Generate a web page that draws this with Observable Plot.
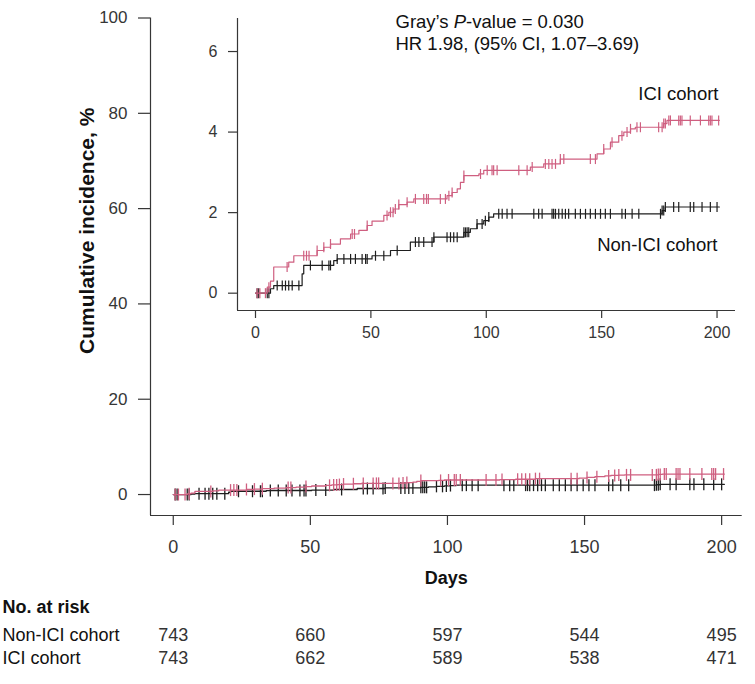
<!DOCTYPE html>
<html><head><meta charset="utf-8">
<script src="https://cdn.jsdelivr.net/npm/d3@7"></script>
<script src="https://cdn.jsdelivr.net/npm/@observablehq/plot@0.6"></script>
<style>
body{margin:0;background:#fff;font-family:"Liberation Sans",Arial,Helvetica,sans-serif;}
#wrap{position:relative;width:755px;height:684px;overflow:hidden;background:#fff;}
#wrap > svg{position:absolute;left:0;}
</style></head><body><div id="wrap"></div>
<script>
// ---- data ----
const cohorts = ["Non-ICI cohort", "ICI cohort"];
// step curves: event day and cumulative incidence (%)
const iciDays = [0, 5.1, 6.5, 7.9, 14.4, 16.6, 26.7, 29.6, 32.5, 36.8, 41.2, 44.8, 48.4, 50.5, 55.6, 57.8, 59.9, 62.1, 65.7, 68.6, 83.0, 85.2, 87.4, 88.8, 90.3, 96.8, 98.9, 119.1, 124.9, 132.1, 148.0, 150.9, 153.8, 157.4, 159.6, 162.5, 164.6, 176.9, 178.3, 201];
const iciInc = [0, 0.15, 0.3, 0.65, 0.77, 0.93, 1.06, 1.14, 1.22, 1.35, 1.47, 1.56, 1.68, 1.79, 1.93, 2.01, 2.09, 2.2, 2.26, 2.34, 2.42, 2.5, 2.59, 2.75, 2.92, 2.96, 3.05, 3.13, 3.21, 3.33, 3.46, 3.58, 3.75, 3.91, 4.0, 4.08, 4.12, 4.21, 4.29, 4.29];
const nonDays = [0, 6.5, 7.9, 20.2, 20.9, 33.9, 35.4, 50.5, 58.5, 67.1, 77.3, 90.3, 93.1, 96.0, 98.9, 101.1, 103.2, 176.2, 177.6, 201];
const nonInc = [0, 0.11, 0.19, 0.48, 0.69, 0.81, 0.85, 0.93, 1.06, 1.27, 1.39, 1.51, 1.60, 1.72, 1.80, 1.89, 1.97, 2.05, 2.14, 2.14];
// censoring times (days)
const iciCensor = [0.7, 1.9, 4.3, 5.8, 13.7, 20.9, 22.1, 23.2, 26.7, 29.6, 32.5, 41.9, 42.9, 48.4, 57.0, 58.5, 59.6, 60.6, 62.1, 65.7, 69.3, 72.9, 74.1, 74.9, 80.1, 82.3, 83.8, 85.2, 90.3, 97.5, 100.4, 102.5, 103.2, 104.7, 114.1, 117.7, 119.9, 125.6, 127.1, 128.5, 130.0, 132.1, 133.6, 145.1, 147.3, 150.9, 154.5, 158.8, 161.0, 162.5, 165.3, 166.8, 174.7, 176.2, 176.9, 177.6, 179.1, 179.8, 183.4, 184.1, 184.8, 188.4, 192.8, 196.4, 197.1, 197.8, 200.7];
const nonCensor = [0.7, 1.4, 5.1, 5.8, 9.4, 11.6, 13.0, 14.4, 15.9, 18.8, 23.8, 28.9, 31.8, 32.5, 35.4, 38.3, 41.2, 43.3, 46.2, 47.7, 48.4, 52.0, 55.6, 61.4, 69.3, 70.8, 72.9, 76.5, 77.3, 83.0, 84.5, 85.9, 87.4, 90.3, 91.0, 91.7, 92.4, 96.0, 98.2, 99.6, 101.1, 105.4, 106.9, 109.0, 111.2, 120.6, 122.7, 124.2, 128.5, 129.2, 130.0, 131.4, 132.9, 134.3, 135.7, 138.6, 140.8, 143.0, 145.1, 147.3, 149.5, 151.6, 153.8, 158.8, 160.3, 163.2, 166.1, 175.5, 176.2, 176.9, 177.6, 181.2, 183.4, 188.4, 189.9, 193.5, 197.1, 200.0];
// axes
const xTicks = [0, 50, 100, 150, 200];
const mainYTicks = [0, 20, 40, 60, 80, 100];
const insetYTicks = [0, 2, 4, 6];
// number at risk
const riskDays = [0, 50, 100, 150, 200];
const riskNonICI = [743, 660, 597, 544, 495];
const riskICI = [743, 662, 589, 538, 471];
// annotation texts
const statLine1 = "Gray\u2019s P-value = 0.030";
const statLine2 = "HR 1.98, (95% CI, 1.07\u20133.69)";

// ---- derived tables ----
const FONT = '"Liberation Sans", Arial, Helvetica, sans-serif';
const PINK = "#cf5f80", BLACK = "#1e1e1e", AXIS = "#363636";
function stepAt(days, inc, t) { let v = inc[0]; for (let i = 0; i < days.length; i++) if (days[i] <= t) v = inc[i]; return v; }
const iciCurve = iciDays.map((d, i) => ({day: d, inc: iciInc[i]}));
const nonCurve = nonDays.map((d, i) => ({day: d, inc: nonInc[i]}));
const iciMarks = iciCensor.map(d => ({day: d, inc: stepAt(iciDays, iciInc, d)}));
const nonMarks = nonCensor.map(d => ({day: d, inc: stepAt(nonDays, nonInc, d)}));
const riskRows = riskDays.flatMap((d, i) => [
  {day: d, cohort: cohorts[0], n: riskNonICI[i]},
  {day: d, cohort: cohorts[1], n: riskICI[i]}
]);
const vtick = h => ({draw(ctx) { ctx.moveTo(0, -h / 2); ctx.lineTo(0, h / 2); }});

function curveMarks(sw, h) {
  return [
    Plot.line(nonCurve, {x: "day", y: "inc", curve: "step-after", stroke: BLACK, strokeWidth: sw}),
    Plot.dot(nonMarks, {x: "day", y: "inc", symbol: vtick(h), r: 4, fill: "none", stroke: BLACK, strokeWidth: sw}),
    Plot.line(iciCurve, {x: "day", y: "inc", curve: "step-after", stroke: PINK, strokeWidth: sw}),
    Plot.dot(iciMarks, {x: "day", y: "inc", symbol: vtick(h), r: 4, fill: "none", stroke: PINK, strokeWidth: sw})
  ];
}

const wrap = document.getElementById("wrap");

// ---- main plot ----
const xMain = [-8.3, 207.5], yMain = [-4.4, 100];
const main = Plot.plot({
  width: 755, height: 600,
  marginTop: 17.5, marginBottom: 85, marginLeft: 150, marginRight: 13.3,
  style: {fontFamily: FONT, fontSize: "17px", color: AXIS, background: "transparent", overflow: "visible"},
  x: {domain: xMain},
  y: {domain: yMain},
  marks: [
    Plot.ruleX([xMain[0]], {stroke: AXIS, strokeWidth: 1.2}),
    Plot.ruleY([yMain[0]], {stroke: AXIS, strokeWidth: 1.2}),
    Plot.axisX({ticks: xTicks, tickSize: 10, tickPadding: 15, fontSize: 18, label: null, strokeWidth: 1.2}),
    Plot.axisY({ticks: mainYTicks, tickSize: 12, tickPadding: 11, fontSize: 17, label: null, strokeWidth: 1.2}),
    ...curveMarks(1.3, 12),
    Plot.text(["Days"], {frameAnchor: "bottom", lineAnchor: "middle", dy: 63, fontWeight: "bold", fontSize: 18, fill: "#111"}),
    Plot.text(["Cumulative incidence, %"], {frameAnchor: "left", textAnchor: "middle", lineAnchor: "middle", rotate: -90, dx: -63, dy: -36, fontWeight: "bold", fontSize: 21, fill: "#111"})
  ]
});
main.style.top = "0px";
wrap.appendChild(main);

// ---- inset ----
const xIn = [-7.8, 208], yIn = [-0.43, 6.82];
const inset = Plot.plot({
  width: 755, height: 345,
  marginTop: 18, marginBottom: 35, marginLeft: 237, marginRight: 20,
  style: {fontFamily: FONT, fontSize: "16px", color: AXIS, background: "transparent", overflow: "visible"},
  x: {domain: xIn},
  y: {domain: yIn},
  marks: [
    Plot.ruleX([xIn[0]], {stroke: AXIS, strokeWidth: 1.2}),
    Plot.ruleY([yIn[0]], {stroke: AXIS, strokeWidth: 1.2}),
    Plot.axisX({ticks: xTicks, tickSize: 8, tickPadding: 8, fontSize: 16, label: null, strokeWidth: 1.2}),
    Plot.axisY({ticks: insetYTicks, tickSize: 9, tickPadding: 11, fontSize: 16, label: null, strokeWidth: 1.2}),
    ...curveMarks(1.2, 10),
    Plot.text([statLine1], {frameAnchor: "top-left", textAnchor: "start", lineAnchor: "middle", dx: 158, dy: 3.7, fontSize: 18.5, fill: "#111"}),
    Plot.text([statLine2], {frameAnchor: "top-left", textAnchor: "start", lineAnchor: "middle", dx: 158, dy: 25.3, fontSize: 18.5, fill: "#111"}),
    Plot.text([cohorts[1]], {frameAnchor: "top-right", textAnchor: "end", lineAnchor: "middle", dx: -17, dy: 75.3, fontSize: 18.5, fill: "#111"}),
    Plot.text([cohorts[0]], {frameAnchor: "top-right", textAnchor: "end", lineAnchor: "middle", dx: -18, dy: 227, fontSize: 18.5, fill: "#111"})
  ]
});
inset.style.top = "0px";
d3.select(inset).selectAll("text").each(function() {
  if (this.textContent === statLine1) {
    const el = d3.select(this);
    el.text(null);
    el.append("tspan").text("Gray\u2019s ");
    el.append("tspan").attr("font-style", "italic").text("P");
    el.append("tspan").text("-value = 0.030");
  }
});
wrap.appendChild(inset);

// ---- number at risk ----
const risk = Plot.plot({
  width: 755, height: 94,
  marginTop: 0, marginBottom: 0, marginLeft: 150, marginRight: 13.3,
  style: {fontFamily: FONT, fontSize: "18px", color: "#222", background: "transparent", overflow: "visible"},
  x: {domain: xMain, axis: null},
  y: {type: "point", domain: cohorts, range: [45, 68], padding: 0, axis: null},
  marks: [
    Plot.text(riskRows, {x: "day", y: "cohort", text: "n", fontSize: 18, fill: "#333"}),
    Plot.text(cohorts, {y: d => d, text: d => d, frameAnchor: "left", textAnchor: "start", dx: -148, fontSize: 18, fill: "#111"}),
    Plot.text(["No. at risk"], {frameAnchor: "top-left", textAnchor: "start", lineAnchor: "middle", dx: -148, dy: 17, fontWeight: "bold", fontSize: 18, fill: "#111"})
  ]
});
risk.style.top = "590px";
wrap.appendChild(risk);
</script>
</body></html>
